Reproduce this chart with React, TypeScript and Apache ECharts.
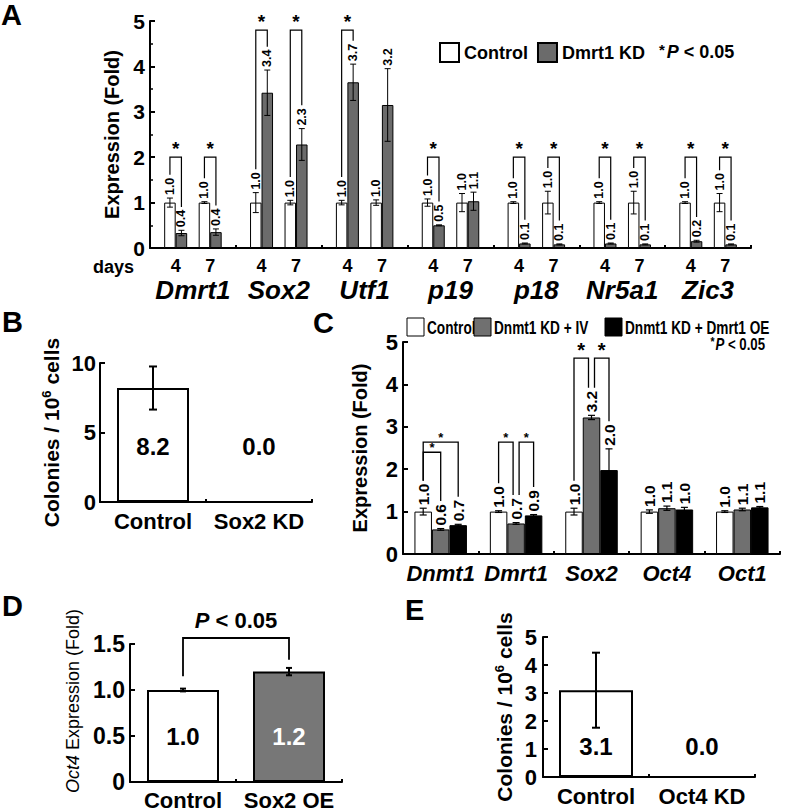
import React, { useEffect, useRef } from 'react';
import * as echarts from 'echarts';

const FONT = "'Liberation Sans', Arial, Helvetica, sans-serif";
const BLACK = '#000';

// ---------------- Panel A ----------------
const genesA = ['Dmrt1', 'Sox2', 'Utf1', 'p19', 'p18', 'Nr5a1', 'Zic3'];
const daysA = ['4', '7'];
const ctrl4A = [1.0, 1.0, 1.0, 1.0, 1.0, 1.0, 1.0];
const ctrl4ErrA = [0.1, 0.22, 0.05, 0.08, 0.02, 0.02, 0.02];
const kd4A = [0.33, 3.42, 3.65, 0.5, 0.1, 0.1, 0.15];
const kd4ErrA = [0.06, 0.5, 0.4, 0.01, 0.01, 0.01, 0.02];
const ctrl7A = [1.0, 1.0, 1.0, 1.0, 1.0, 1.0, 1.0];
const ctrl7ErrA = [0.02, 0.05, 0.06, 0.2, 0.25, 0.25, 0.2];
const kd7A = [0.35, 2.28, 3.15, 1.03, 0.08, 0.08, 0.08];
const kd7ErrA = [0.07, 0.35, 0.8, 0.2, 0.01, 0.01, 0.01];
const ctrl4LabelA = ['1.0', '1.0', '1.0', '1.0', '1.0', '1.0', '1.0'];
const kd4LabelA = ['0.4', '3.4', '3.7', '0.5', '0.1', '0.1', '0.2'];
const ctrl7LabelA = ['1.0', '1.0', '1.0', '1.0', '1.0', '1.0', '1.0'];
const kd7LabelA = ['0.4', '2.3', '3.2', '1.1', '0.1', '0.1', '0.1'];
const sig4A = [true, true, true, true, true, true, true];
const sig7A = [true, true, false, false, true, true, true];
const bracketA = [2.0, 4.8, 4.8, 2.0, 2.0, 2.0, 2.0];
const spacerA = [0, 0, 0, 0, 0, 0, 0];

// ---------------- Panel B ----------------
const catsB = ['Control', 'Sox2 KD'];
const valsB = [8.2, 0];
const errB = [1.55, 0];
const labelsB = ['8.2', '0.0'];
const labelLevelB = 4.0;

// ---------------- Panel C ----------------
const genesC = ['Dnmt1', 'Dmrt1', 'Sox2', 'Oct4', 'Oct1'];
const seriesNamesC = ['Control', 'Dnmt1 KD + IV', 'Dnmt1 KD + Dmrt1 OE'];
const ctrlC = [1.0, 1.0, 1.0, 1.0, 1.0];
const ctrlErrC = [0.08, 0.02, 0.08, 0.04, 0.02];
const ivC = [0.58, 0.72, 3.22, 1.08, 1.05];
const ivErrC = [0.02, 0.02, 0.05, 0.05, 0.03];
const oeC = [0.68, 0.91, 1.98, 1.05, 1.1];
const oeErrC = [0.02, 0.02, 0.5, 0.05, 0.02];
const ctrlLabelC = ['1.0', '1.0', '1.0', '1.0', '1.0'];
const ivLabelC = ['0.6', '0.7', '3.2', '1.1', '1.1'];
const oeLabelC = ['0.7', '0.9', '2.0', '1.0', '1.1'];
const bracketGeneC = [0, 0, 1, 1, 2, 2];
const bracketFromC = [0, 0, 0, 1, 0, 1];
const bracketToC = [1, 2, 1, 2, 1, 2];
const bracketLevelC = [2.4, 2.64, 2.64, 2.64, 4.62, 4.62];
const bracketBigStarC = [false, false, false, false, true, true];

// ---------------- Panel D ----------------
const catsD = ['Control', 'Sox2 OE'];
const valsD = [1.0, 1.2];
const errD = [0.015, 0.04];
const labelsD = ['1.0', '1.2'];
const labelLevelD = 0.49;
const bracketD = { left: 1.15, top: 1.565, right: 1.33, text: 1.76 };

// ---------------- Panel E ----------------
const catsE = ['Control', 'Oct4 KD'];
const valsE = [3.1, 0];
const errE = [1.34, 0];
const labelsE = ['3.1', '0.0'];
const labelLevelE = 1.08;

// ---------------- helpers ----------------
const BW_A = 11.5;
const BW_C = 17.5;
const LAB_A = 12.5;
const LAB_C = 15.5;
const GRAY_A = '#6b6b6b';
const GRAY_C = '#707070';

const textW = (s: string, fs: number) => {
  let w = 0;
  for (const ch of s) w += ch === '.' ? 0.278 : 0.556;
  return w * fs;
};

const line = (x1: number, y1: number, x2: number, y2: number, lw = 1) => ({
  type: 'line',
  shape: { x1, y1, x2, y2 },
  style: { stroke: BLACK, lineWidth: lw },
});

const errBar = (cx: number, yt: number, yb: number, half: number, lw = 1) => ({
  type: 'group',
  children: [line(cx, yt, cx, yb, lw), line(cx - half, yt, cx + half, yt, lw), line(cx - half, yb, cx + half, yb, lw)],
});

const vText = (x: number, y: number, text: string, fs: number) => ({
  type: 'text',
  x,
  y,
  rotation: Math.PI / 2,
  style: {
    text,
    fontFamily: FONT,
    fontWeight: 'bold',
    fontSize: fs,
    fill: BLACK,
    align: 'left',
    verticalAlign: 'middle',
  },
});

const poly = (points: number[][], lw = 1.2) => ({
  type: 'polyline',
  shape: { points },
  style: { stroke: BLACK, fill: null, lineWidth: lw },
});

const star = (x: number, y: number, fs: number) => ({
  type: 'text',
  x,
  y,
  style: {
    text: '*',
    fontFamily: FONT,
    fontWeight: 'bold',
    fontSize: fs,
    fill: BLACK,
    align: 'center',
    verticalAlign: 'middle',
  },
});

const hText = (x: number, y: number, text: string, fs: number, fill = BLACK) => ({
  type: 'text',
  x,
  y,
  style: {
    text,
    fontFamily: FONT,
    fontWeight: 'bold',
    fontSize: fs,
    fill,
    align: 'center',
    verticalAlign: 'middle',
  },
});

function renderA(params: any, api: any) {
  const i = params.dataIndex;
  const x0 = api.coord([i, 0])[0];
  const Y = (v: number) => api.coord([i, v])[1];
  const ch: any[] = [];
  const bars = [
    { k: -2, v: ctrl4A[i], e: ctrl4ErrA[i], lab: ctrl4LabelA[i] },
    { k: -1, v: kd4A[i], e: kd4ErrA[i], lab: kd4LabelA[i] },
    { k: 1, v: ctrl7A[i], e: ctrl7ErrA[i], lab: ctrl7LabelA[i] },
    { k: 2, v: kd7A[i], e: kd7ErrA[i], lab: kd7LabelA[i] },
  ];
  const info = bars.map((b) => {
    const cx = x0 + b.k * BW_A;
    const yt = Y(b.v + b.e);
    const yb = Y(Math.max(0, b.v - b.e));
    ch.push(errBar(cx, yt, yb, 3, 1));
    const ly = yt - 3;
    ch.push(vText(cx, ly, b.lab, LAB_A));
    return { cx, top: ly - textW(b.lab, LAB_A) };
  });
  const pairs: number[][] = [];
  if (sig4A[i]) pairs.push([0, 1]);
  if (sig7A[i]) pairs.push([2, 3]);
  const yb = Y(bracketA[i]);
  pairs.forEach(([a, b]) => {
    const L = info[a];
    const R = info[b];
    ch.push(poly([[L.cx, L.top - 3], [L.cx, yb], [R.cx, yb], [R.cx, R.top - 3]], 1.2));
    ch.push(star((L.cx + R.cx) / 2, yb - 9, 19));
  });
  return { type: 'group', children: ch };
}

function renderC(params: any, api: any) {
  const i = params.dataIndex;
  const x0 = api.coord([i, 0])[0];
  const Y = (v: number) => api.coord([i, v])[1];
  const ch: any[] = [];
  const bars = [
    { k: -1, v: ctrlC[i], e: ctrlErrC[i], lab: ctrlLabelC[i] },
    { k: 0, v: ivC[i], e: ivErrC[i], lab: ivLabelC[i] },
    { k: 1, v: oeC[i], e: oeErrC[i], lab: oeLabelC[i] },
  ];
  const info = bars.map((b) => {
    const cx = x0 + b.k * BW_C;
    const yt = Y(b.v + b.e);
    const yb = Y(b.v - b.e);
    ch.push(errBar(cx, yt, yb, 3.5, 1.2));
    const ly = yt - 3;
    ch.push(vText(cx, ly, b.lab, LAB_C));
    return { cx, top: ly - textW(b.lab, LAB_C) };
  });
  bracketGeneC.forEach((g, j) => {
    if (g !== i) return;
    const L = info[bracketFromC[j]];
    const R = info[bracketToC[j]];
    const shared = bracketGeneC.some((gg, jj) => gg === g && bracketFromC[jj] === 1);
    const lx = L.cx + (bracketFromC[j] === 1 ? 3 : 0);
    const rx = R.cx - (bracketToC[j] === 1 && shared ? 3 : 0);
    const yb = Y(bracketLevelC[j]);
    ch.push(poly([[lx, L.top - 3], [lx, yb], [rx, yb], [rx, R.top - 3]], 1.3));
    const big = bracketBigStarC[j];
    ch.push(star((lx + rx) / 2, yb - (big ? 8 : 5), big ? 20 : 13));
  });
  return { type: 'group', children: ch };
}

function renderSimple(vals: number[], errs: number[], labels: string[], level: number, half: number, colors: string[], fs: number) {
  return (params: any, api: any) => {
    const i = params.dataIndex;
    const c = api.coord([i, vals[i]]);
    const ch: any[] = [];
    if (errs[i] > 0) {
      const yt = api.coord([i, vals[i] + errs[i]])[1];
      const yb = api.coord([i, vals[i] - errs[i]])[1];
      ch.push(errBar(c[0], yt, yb, half, 2));
    }
    const lp = api.coord([i, level]);
    ch.push(hText(lp[0], lp[1], labels[i], fs, colors[i]));
    return { type: 'group', children: ch };
  };
}

function renderDBracket(params: any, api: any) {
  const l = api.coord([0, bracketD.left]);
  const t0 = api.coord([0, bracketD.top]);
  const r = api.coord([1, bracketD.right]);
  const t1 = api.coord([1, bracketD.top]);
  const tx = api.coord([0.5, bracketD.text]);
  return {
    type: 'group',
    children: [
      poly([[l[0], l[1]], [t0[0], t0[1]], [t1[0], t1[1]], [r[0], r[1]]], 1.8),
      {
        type: 'text',
        x: (l[0] + r[0]) / 2,
        y: tx[1],
        style: {
          text: '{i|P}{n| < 0.05}',
          align: 'center',
          verticalAlign: 'middle',
          fill: BLACK,
          rich: {
            i: { fontFamily: FONT, fontWeight: 'bold', fontStyle: 'italic', fontSize: 22, fill: BLACK },
            n: { fontFamily: FONT, fontWeight: 'bold', fontSize: 22, fill: BLACK },
          },
        },
      },
    ],
  };
}

const boldText = (fs: number, extra: any = {}) => ({
  fontFamily: FONT,
  fontWeight: 'bold',
  fontSize: fs,
  color: BLACK,
  ...extra,
});

function xCat(gridIndex: number, data: string[], label: any) {
  return {
    type: 'category',
    gridIndex,
    data,
    axisLine: { show: true, onZero: false, lineStyle: { color: BLACK, width: 2 } },
    axisTick: { show: true, inside: true, length: 3, lineStyle: { color: BLACK, width: 2 } },
    axisLabel: { interval: 0, ...label },
    splitLine: { show: false },
  };
}

function yVal(gridIndex: number, max: number, interval: number, extra: any) {
  return {
    type: 'value',
    gridIndex,
    min: 0,
    max,
    interval,
    axisLine: { show: true, lineStyle: { color: BLACK, width: 2 } },
    axisTick: { show: true, inside: true, length: 5, lineStyle: { color: BLACK, width: 2 } },
    splitLine: { show: false },
    nameLocation: 'middle',
    ...extra,
  };
}

const supName = (fs: number) => ({
  fontFamily: FONT,
  fontWeight: 'bold',
  fontSize: fs,
  color: BLACK,
  rich: {
    a: { fontFamily: FONT, fontWeight: 'bold', fontSize: fs, color: BLACK, lineHeight: fs + 1, padding: [9, 0, 0, 0], verticalAlign: 'bottom' },
    s: { fontFamily: FONT, fontWeight: 'bold', fontSize: 13, color: BLACK, lineHeight: 13, verticalAlign: 'top' },
  },
});

// condensed legend for panel C (graphic, text squeezed horizontally)
const LEG_C_X = [407, 474, 605];
const LEG_C_FILL = ['#fff', GRAY_C, '#000'];
function legendC() {
  const children: any[] = [];
  seriesNamesC.forEach((name, k) => {
    children.push({
      type: 'rect',
      shape: { x: LEG_C_X[k], y: 318, width: 17, height: 18 },
      style: { fill: LEG_C_FILL[k], stroke: BLACK, lineWidth: 1 },
    });
    children.push({
      type: 'text',
      x: LEG_C_X[k] + 20,
      y: 327.5,
      scaleX: 0.78,
      style: { text: name, fontFamily: FONT, fontWeight: 'bold', fontSize: 17.5, fill: BLACK, align: 'left', verticalAlign: 'middle' },
    });
  });
  return { type: 'group', children };
}

function buildOption() {
  const white = { color: '#fff', borderColor: BLACK, borderWidth: 1 };
  return {
    animation: false,
    backgroundColor: '#fff',
    grid: [
      { left: 150, top: 21, width: 601, height: 227 },
      { left: 100, top: 363, width: 212, height: 139 },
      { left: 403, top: 342, width: 377, height: 212 },
      { left: 130, top: 644, width: 212, height: 138 },
      { left: 543, top: 637, width: 212, height: 140 },
    ],
    legend: [
      {
        left: 439,
        top: 42,
        padding: 0,
        itemWidth: 19,
        itemHeight: 19,
        itemGap: 9,
        icon: 'rect',
        selectedMode: false,
        data: ['Control', 'Dmrt1 KD'],
        textStyle: boldText(18),
      },
    ],
    xAxis: [
      xCat(0, genesA, {
        margin: 10,
        formatter: (v: string) => `{d|${daysA[0]}}{s|}{d|${daysA[1]}}\n{g|${v}}`,
        rich: {
          d: { fontFamily: FONT, fontWeight: 'bold', fontSize: 18, color: BLACK, width: 14, align: 'center', lineHeight: 16 },
          s: { width: 20.5, lineHeight: 16 },
          g: { fontFamily: FONT, fontWeight: 'bold', fontStyle: 'italic', fontSize: 26, color: BLACK, lineHeight: 32 },
        },
      }),
      xCat(1, catsB, { margin: 8, ...boldText(22) }),
      xCat(2, genesC, { margin: 8, ...boldText(22, { fontStyle: 'italic' }) }),
      xCat(3, catsD, { margin: 7, ...boldText(22) }),
      xCat(4, catsE, { margin: 8, ...boldText(22) }),
    ],
    yAxis: [
      yVal(0, 5, 1, {
        name: 'Expression (Fold)',
        nameGap: 19,
        nameTextStyle: boldText(20),
        axisLabel: { margin: 5, ...boldText(21) },
        minorTick: { show: true, splitNumber: 2, length: 3, lineStyle: { color: BLACK, width: 1.5 } },
      }),
      yVal(1, 10, 5, {
        name: '{a|Colonies / 10}{s|6}{a| cells}',
        nameGap: 38,
        nameTextStyle: supName(21),
        axisLabel: { margin: 4, ...boldText(22) },
      }),
      yVal(2, 5, 1, {
        name: 'Expression (Fold)',
        nameGap: 33,
        nameTextStyle: boldText(20),
        axisLabel: { margin: 5, ...boldText(22) },
      }),
      yVal(3, 1.5, 0.5, {
        name: '{i|Oct4}{n| Expression (Fold)}',
        nameGap: 48,
        nameTextStyle: {
          fontFamily: FONT,
          fontSize: 18,
          color: BLACK,
          padding: [0, 0, 0, 24],
          rich: {
            i: { fontFamily: FONT, fontStyle: 'italic', fontSize: 18, color: BLACK },
            n: { fontFamily: FONT, fontSize: 18, color: BLACK },
          },
        },
        axisLabel: {
          margin: 5,
          ...boldText(23),
          formatter: (v: number) => (v === 0 ? '0' : v.toFixed(1)),
        },
      }),
      yVal(4, 5, 1, {
        name: '{a|Colonies / 10}{s|6}{a| cells}',
        nameGap: 28,
        nameTextStyle: supName(21),
        axisLabel: { margin: 6, ...boldText(22) },
      }),
    ],
    series: [
      // Panel A bars
      { type: 'bar', name: 'Control', xAxisIndex: 0, yAxisIndex: 0, data: ctrl4A, barWidth: BW_A, barGap: '0%', itemStyle: white },
      { type: 'bar', name: 'Dmrt1 KD', xAxisIndex: 0, yAxisIndex: 0, data: kd4A, barWidth: BW_A, barGap: '0%', itemStyle: { color: GRAY_A, borderColor: BLACK, borderWidth: 1 } },
      { type: 'bar', name: 'spacer', xAxisIndex: 0, yAxisIndex: 0, data: spacerA, barWidth: BW_A, barGap: '0%', itemStyle: { color: 'rgba(0,0,0,0)' }, silent: true },
      { type: 'bar', name: 'Control', xAxisIndex: 0, yAxisIndex: 0, data: ctrl7A, barWidth: BW_A, barGap: '0%', itemStyle: white },
      { type: 'bar', name: 'Dmrt1 KD', xAxisIndex: 0, yAxisIndex: 0, data: kd7A, barWidth: BW_A, barGap: '0%', itemStyle: { color: GRAY_A, borderColor: BLACK, borderWidth: 1 } },
      { type: 'custom', name: 'A marks', xAxisIndex: 0, yAxisIndex: 0, data: genesA.map((_, i) => [i, 0]), renderItem: renderA, z: 5, silent: true },
      // Panel B
      { type: 'bar', name: 'Colonies B', xAxisIndex: 1, yAxisIndex: 1, data: valsB, barWidth: 72, itemStyle: { color: '#fff', borderColor: BLACK, borderWidth: 2 } },
      { type: 'custom', name: 'B marks', xAxisIndex: 1, yAxisIndex: 1, data: valsB.map((v, i) => [i, v]), renderItem: renderSimple(valsB, errB, labelsB, labelLevelB, 4, [BLACK, BLACK], 24), z: 5, silent: true },
      // Panel C
      { type: 'bar', name: seriesNamesC[0], xAxisIndex: 2, yAxisIndex: 2, data: ctrlC, barWidth: BW_C, barGap: '0%', itemStyle: white },
      { type: 'bar', name: seriesNamesC[1], xAxisIndex: 2, yAxisIndex: 2, data: ivC, barWidth: BW_C, barGap: '0%', itemStyle: { color: GRAY_C, borderColor: BLACK, borderWidth: 1 } },
      { type: 'bar', name: seriesNamesC[2], xAxisIndex: 2, yAxisIndex: 2, data: oeC, barWidth: BW_C, barGap: '0%', itemStyle: { color: '#000', borderColor: BLACK, borderWidth: 1 } },
      { type: 'custom', name: 'C marks', xAxisIndex: 2, yAxisIndex: 2, data: genesC.map((_, i) => [i, 0]), renderItem: renderC, z: 5, silent: true },
      // Panel D
      {
        type: 'bar',
        name: 'Oct4 D',
        xAxisIndex: 3,
        yAxisIndex: 3,
        barWidth: 72,
        data: valsD.map((v, i) => ({ value: v, itemStyle: { color: i === 0 ? '#fff' : '#777777', borderColor: BLACK, borderWidth: 2 } })),
      },
      { type: 'custom', name: 'D marks', xAxisIndex: 3, yAxisIndex: 3, data: valsD.map((v, i) => [i, v]), renderItem: renderSimple(valsD, errD, labelsD, labelLevelD, 3, [BLACK, '#fff'], 24), z: 5, silent: true },
      { type: 'custom', name: 'D bracket', xAxisIndex: 3, yAxisIndex: 3, data: [[0, 1]], renderItem: renderDBracket, z: 5, silent: true },
      // Panel E
      { type: 'bar', name: 'Colonies E', xAxisIndex: 4, yAxisIndex: 4, data: valsE, barWidth: 74, itemStyle: { color: '#fff', borderColor: BLACK, borderWidth: 2 } },
      { type: 'custom', name: 'E marks', xAxisIndex: 4, yAxisIndex: 4, data: valsE.map((v, i) => [i, v]), renderItem: renderSimple(valsE, errE, labelsE, labelLevelE, 4, [BLACK, BLACK], 24), z: 5, silent: true },
    ],
    graphic: [
      { type: 'text', x: 1, y: 14.5, style: { text: 'A', fontFamily: FONT, fontWeight: 'bold', fontSize: 29, fill: BLACK, verticalAlign: 'middle' } },
      { type: 'text', x: 2, y: 322, style: { text: 'B', fontFamily: FONT, fontWeight: 'bold', fontSize: 29, fill: BLACK, verticalAlign: 'middle' } },
      { type: 'text', x: 313, y: 323, style: { text: 'C', fontFamily: FONT, fontWeight: 'bold', fontSize: 29, fill: BLACK, verticalAlign: 'middle' } },
      { type: 'text', x: 2, y: 606, style: { text: 'D', fontFamily: FONT, fontWeight: 'bold', fontSize: 29, fill: BLACK, verticalAlign: 'middle' } },
      { type: 'text', x: 405, y: 610, style: { text: 'E', fontFamily: FONT, fontWeight: 'bold', fontSize: 29, fill: BLACK, verticalAlign: 'middle' } },
      { type: 'text', x: 93, y: 267, style: { text: 'days', fontFamily: FONT, fontWeight: 'bold', fontSize: 18, fill: BLACK, verticalAlign: 'middle' } },
      {
        type: 'text',
        x: 659,
        y: 52,
        style: {
          text: '{a|*}{p|P}{b| < 0.05}',
          verticalAlign: 'middle',
          rich: {
            a: { fontFamily: FONT, fontWeight: 'bold', fontSize: 15, fill: BLACK, padding: [0, 2, 6, 0] },
            p: { fontFamily: FONT, fontWeight: 'bold', fontStyle: 'italic', fontSize: 18, fill: BLACK },
            b: { fontFamily: FONT, fontWeight: 'bold', fontSize: 18, fill: BLACK },
          },
        },
      },
      legendC(),
      {
        type: 'text',
        x: 765,
        y: 344,
        scaleX: 0.8,
        style: {
          text: '{a|*}{p|P}{b| < 0.05}',
          align: 'right',
          verticalAlign: 'middle',
          rich: {
            a: { fontFamily: FONT, fontWeight: 'bold', fontSize: 13, fill: BLACK, padding: [0, 1, 5, 0] },
            p: { fontFamily: FONT, fontWeight: 'bold', fontStyle: 'italic', fontSize: 16.5, fill: BLACK },
            b: { fontFamily: FONT, fontWeight: 'bold', fontSize: 16.5, fill: BLACK },
          },
        },
      },
    ],
  };
}

export default function App() {
  const ref = useRef<HTMLDivElement>(null);
  useEffect(() => {
    const chart = echarts.init(ref.current as HTMLDivElement, null, { renderer: 'svg' });
    chart.setOption(buildOption() as any);
    return () => chart.dispose();
  }, []);
  return (
    <div
      ref={ref}
      style={{ position: 'absolute', left: 0, top: 0, width: 801, height: 811, background: '#fff' }}
    />
  );
}
